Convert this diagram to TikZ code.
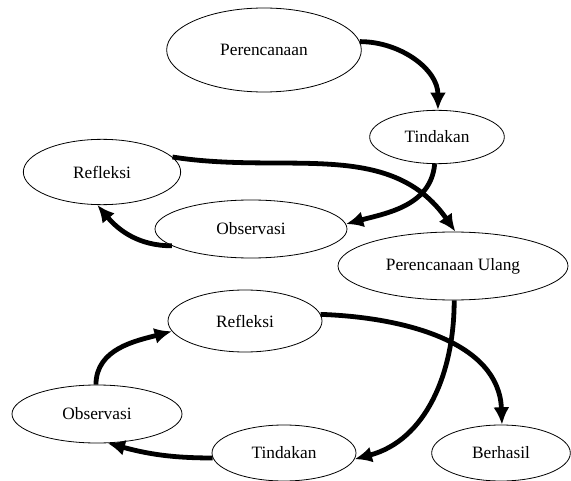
\documentclass[tikz,border=0pt]{standalone}
\usepackage{fontspec}
\setmainfont{Liberation Serif}
\usetikzlibrary{shapes.geometric,arrows.meta}

\begin{document}
\begin{tikzpicture}[-{Latex[length=13pt,width=12pt]}, x=0.75pt, y=-0.75pt,
line width=3.6pt, stage/.style ={draw, ellipse, line width=0.6pt, inner sep=0pt,
font=\fontsize{13}{15}\selectfont}]

\useasboundingbox (0,0) rectangle (571,481);

% first cycle
\node[stage,minimum width=146pt,minimum height=63pt] (A) at (264,50) {Perencanaan};
\node[stage,minimum width=101pt,minimum height=40pt] (B) at (437,137) {Tindakan};
\node[stage,minimum width=118pt,minimum height=49pt] (C) at (102,172) {Refleksi};
\node[stage,minimum width=144pt,minimum height=43.5pt] (D) at (251,229) {Observasi};
\node[stage,minimum width=172.5pt,minimum height=51pt] (E) at (453,266) {Perencanaan Ulang};

\path (A.5) edge [out=0, in=90] (B.88);
\path (B.265) edge [out=-95, in=15] (D.3);
\path (D.192) edge [out=180, in=-50] (C.262);
\path (C.12) edge [out=-9, in=125] (E.86);

% second cycle
\node[stage,minimum width=115.5pt,minimum height=46.5pt] (F) at (245,321) {Refleksi};
\node[stage,minimum width=127.5pt,minimum height=43.5pt] (G) at (97,414) {Observasi};
\node[stage,minimum width=108pt,minimum height=42pt] (H) at (284,453) {Tindakan};
\node[stage,minimum width=104pt,minimum height=42pt] (I) at (501,453) {Berhasil};

\path (E.272) edge [out=-90, in=15] (H.-5);
\path (H.184) edge [out=180, in=-15] (G.-70);
\path (G.92) edge [out=90, in=195] (F.188);
\path (F.5) edge [out=-2, in=92] (I.88);

\end{tikzpicture}
\end{document}
